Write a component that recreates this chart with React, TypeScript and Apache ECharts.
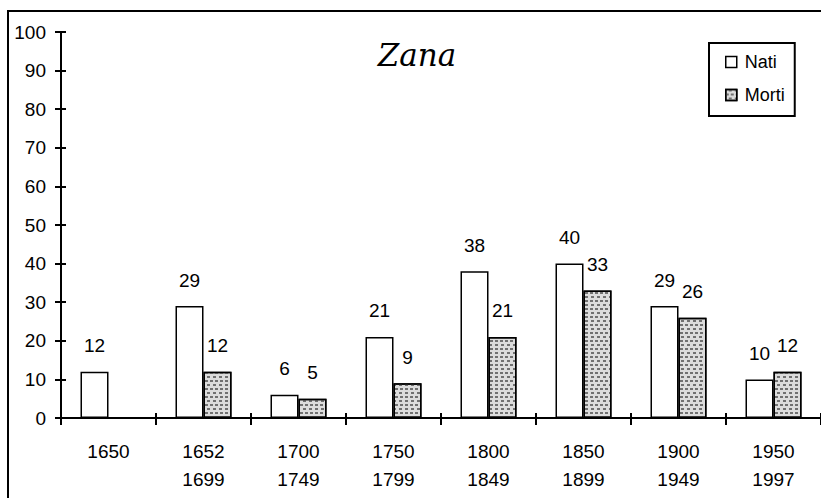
import React, { useEffect, useRef } from "react";
import * as echarts from "echarts";

const categories = ["1650", "1652\n1699", "1700\n1749", "1750\n1799", "1800\n1849", "1850\n1899", "1900\n1949", "1950\n1997"];
const nati = [12, 29, 6, 21, 38, 40, 29, 10];
const morti = [null, 12, 5, 9, 21, 33, 26, 12];
const yTicks = { min: 0, max: 100, interval: 10 };
const titleText = "Zana";
const seriesNames = ["Nati", "Morti"];

const FONT = "Liberation Sans";

export default function App() {
  const ref = useRef<HTMLDivElement>(null);
  useEffect(() => {
    if (!ref.current) return;
    const chart = echarts.init(ref.current, null, { renderer: "svg" });
    const labelStyle = {
      show: true,
      position: "top",
      distance: 16,
      color: "#000",
      fontFamily: FONT,
      fontSize: 19,
      lineHeight: 20,
    };
    chart.setOption({
      animation: false,
      backgroundColor: "#fff",
      grid: { left: 61, top: 32, width: 768, height: 386 },
      legend: {
        orient: "vertical",
        left: 709,
        top: 43,
        padding: [9, 10, 11, 16],
        borderColor: "#000",
        borderWidth: 2,
        borderRadius: 0,
        itemWidth: 11,
        itemHeight: 11,
        itemGap: 13,
        icon: "rect",
        itemStyle: { borderColor: "#000", borderWidth: 1.5 },
        textStyle: { fontFamily: FONT, fontSize: 18, lineHeight: 20, color: "#000", padding: [0, 0, 0, 3] },
        data: seriesNames,
      },
      xAxis: [
        {
          type: "category",
          data: categories,
          position: "bottom",
          axisLine: { lineStyle: { color: "#000", width: 2 } },
          axisTick: { show: true, length: 7, lineStyle: { color: "#000", width: 2 } },
          axisLabel: { color: "#000", fontFamily: FONT, fontSize: 19, lineHeight: 28, margin: 19, interval: 0 },
        },
        {
          type: "category",
          data: categories,
          position: "bottom",
          gridIndex: 0,
          axisLine: { show: false },
          axisTick: { show: true, inside: true, length: 5, lineStyle: { color: "#000", width: 2 } },
          axisLabel: { show: false },
        },
      ],
      yAxis: [
        {
          type: "value",
          ...yTicks,
          position: "left",
          axisLine: { show: true, lineStyle: { color: "#000", width: 2 } },
          axisTick: { show: true, length: 6, lineStyle: { color: "#000", width: 2 } },
          axisLabel: { color: "#000", fontFamily: FONT, fontSize: 19, margin: 15 },
          splitLine: { show: false },
        },
        {
          type: "value",
          ...yTicks,
          position: "left",
          axisLine: { show: false },
          axisTick: { show: true, inside: true, length: 5, lineStyle: { color: "#000", width: 2 } },
          axisLabel: { show: false },
          splitLine: { show: false },
        },
      ],
      series: [
        {
          name: seriesNames[0],
          type: "bar",
          data: nati,
          barWidth: 28,
          barGap: "0%",
          itemStyle: { color: "#fff", borderColor: "#000", borderWidth: 1.5 },
          label: labelStyle,
        },
        {
          name: seriesNames[1],
          type: "bar",
          data: morti,
          barWidth: 28,
          barGap: "0%",
          itemStyle: {
            color: "#dcdcdc",
            borderColor: "#000",
            borderWidth: 1.5,
            decal: {
              symbol: "rect",
              symbolSize: 1,
              color: "#707070",
              dashArrayX: [[3, 2], [0, 2.5, 3, 0]],
              dashArrayY: [1.5, 1.5],
              rotation: 0,
            },
          },
          label: labelStyle,
        },
      ],
      graphic: [
        {
          type: "rect",
          shape: { x: 8, y: 11, width: 830, height: 520 },
          style: { fill: "none", stroke: "#000", lineWidth: 2 },
          silent: true,
        },
        {
          type: "text",
          x: 417,
          y: 55,
          style: {
            text: titleText,
            font: "italic 31px 'DejaVu Serif'",
            fill: "#000",
            align: "center",
            verticalAlign: "middle",
          },
        },
      ],
    });
    return () => chart.dispose();
  }, []);
  return <div ref={ref} style={{ position: "fixed", left: 0, top: 0, width: 821, height: 498 }} />;
}
